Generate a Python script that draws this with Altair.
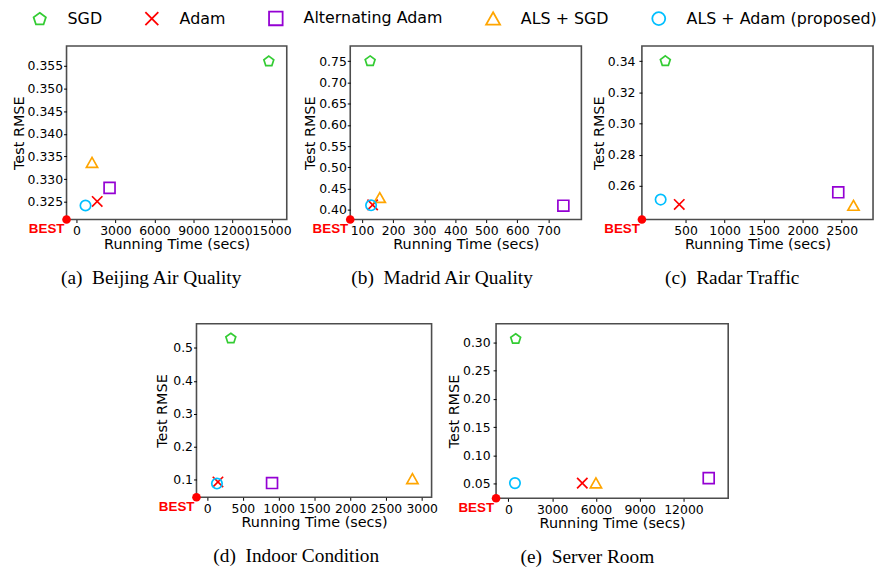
import altair as alt
import pandas as pd

# ---- data ----
methods = ["SGD", "Adam", "Alternating Adam", "ALS + SGD", "ALS + Adam (proposed)"]
colors = ["#33cc33", "#ff0000", "#9400d3", "#ffa500", "#00bfff"]

# (a) Beijing Air Quality
a_time = [14800, 1600, 2550, 1200, 700]
a_rmse = [0.3560, 0.3251, 0.3281, 0.3336, 0.3242]
# (b) Madrid Air Quality
b_time = [126, 134, 748, 157, 129]
b_rmse = [0.750, 0.412, 0.410, 0.428, 0.411]
# (c) Radar Traffic
c_time = [242, 420, 2455, 2650, 182]
c_rmse = [0.340, 0.2481, 0.2559, 0.2472, 0.2512]
# (d) Indoor Condition
d_time = [332, 152, 908, 2870, 138]
d_rmse = [0.529, 0.0914, 0.088, 0.100, 0.0866]
# (e) Server Room
e_time = [498, 5066, 13732, 6000, 450]
e_rmse = [0.3065, 0.0505, 0.0594, 0.0500, 0.0505]

pent = "M0,-1L0.951,-0.309L0.588,0.809L-0.588,0.809L-0.951,-0.309Z"
xmark = "M-1,-1L1,1M-1,1L1,-1"
sq = "M-1.05,-1.05L1.05,-1.05L1.05,1.05L-1.05,1.05Z"
tri = "M0,-1.05L1.08,0.85L-1.08,0.85Z"
shapes = [pent, xmark, sq, tri, "circle"]

legend = alt.Legend(
    orient="none", legendX=-35, legendY=-36, direction="horizontal", title=None,
    labelFont="DejaVu Sans", labelFontSize=16, labelColor="black", labelLimit=400,
    symbolSize=170, symbolStrokeWidth=1.8, labelOffset=20, columnPadding=39,
    symbolFillColor="transparent",
)


def panel(times, rmses, xdom, ydom, xvals, yvals, yfmt, caption, w, h, ylabpad=2, ytpad=1):
    df = pd.DataFrame({"Method": methods, "time": times, "rmse": rmses})
    xenc = alt.X("time:Q", scale=alt.Scale(domain=xdom, nice=False, zero=False),
                 axis=alt.Axis(values=xvals, format="d", title="Running Time (secs)",
                               labelOverlap=False))
    yenc = alt.Y("rmse:Q", scale=alt.Scale(domain=ydom, nice=False, zero=False),
                 axis=alt.Axis(values=yvals, format=yfmt, title="Test RMSE",
                               labelPadding=ylabpad, titlePadding=ytpad, labelOverlap=False))
    pts = alt.Chart(df).mark_point(filled=False, size=110, strokeWidth=1.7, opacity=1, clip=False).encode(
        x=xenc, y=yenc,
        color=alt.Color("Method:N", scale=alt.Scale(domain=methods, range=colors), legend=legend),
        shape=alt.Shape("Method:N", scale=alt.Scale(domain=methods, range=shapes), legend=legend),
    )
    bdf = pd.DataFrame({"time": [xdom[0]], "rmse": [ydom[0]], "label": ["BEST"]})
    dot = alt.Chart(bdf).mark_circle(size=75, color="#ff0000", opacity=1, clip=False).encode(x=xenc, y=yenc)
    txt = alt.Chart(bdf).mark_text(
        font="Liberation Sans", fontWeight="bold", fontSize=13.5, color="#ff0000",
        align="right", baseline="middle", dx=-2, dy=10, clip=False,
    ).encode(x=xenc, y=yenc, text="label:N")
    return alt.layer(pts, dot, txt).properties(
        width=w, height=h,
        title=alt.TitleParams(caption, orient="bottom", anchor="middle", frame="bounds",
                              font="Liberation Serif", fontSize=19.5, fontWeight="normal",
                              color="black", offset=18),
    )


pa = panel(a_time, a_rmse, [-760, 16180], [0.3211, 0.3594],
           [0, 3000, 6000, 9000, 12000, 15000],
           [0.325, 0.330, 0.335, 0.340, 0.345, 0.350, 0.355], ".3f",
           "(a)\u00a0\u00a0Beijing Air Quality", 222, 175, 1)
pb = panel(b_time, b_rmse, [62, 806], [0.3774, 0.7857],
           [100, 200, 300, 400, 500, 600, 700],
           [0.40, 0.45, 0.50, 0.55, 0.60, 0.65, 0.70, 0.75], ".2f",
           "(b)\u00a0\u00a0Madrid Air Quality", 233, 175, 1)
pc = panel(c_time, c_rmse, [-58, 2900], [0.2384, 0.3497],
           [500, 1000, 1500, 2000, 2500],
           [0.26, 0.28, 0.30, 0.32, 0.34], ".2f",
           "(c)\u00a0\u00a0Radar Traffic", 233, 175, 4)
pd_ = panel(d_time, d_rmse, [-148, 3138], [0.0445, 0.574],
            [0, 500, 1000, 1500, 2000, 2500, 3000],
            [0.1, 0.2, 0.3, 0.4, 0.5], ".1f",
            "(d)\u00a0\u00a0Indoor Condition", 237, 175, 1, 3)
pe = panel(e_time, e_rmse, [-845, 15068], [0.0235, 0.3335],
           [0, 3000, 6000, 9000, 12000],
           [0.05, 0.10, 0.15, 0.20, 0.25, 0.30], ".2f",
           "(e)\u00a0\u00a0Server Room", 234, 176, 3)

spacer = alt.Chart(pd.DataFrame({"v": [0]})).mark_point(opacity=0).encode(
    x=alt.value(0), y=alt.value(0)
).properties(width=131, height=10, view=alt.ViewBackground(stroke="transparent"))

row1 = alt.hconcat(pa, alt.hconcat(pb, pc, spacing=61, bounds="flush"), spacing=64, bounds="flush")
row2 = alt.hconcat(spacer, alt.hconcat(pd_, pe, spacing=65, bounds="flush"), spacing=0, bounds="flush")

# nested flush concat rows count as zero height, so the spacing spans row 1 plot height + gap
chart = alt.vconcat(row1, row2, spacing=280, bounds="flush").properties(
    padding={"left": 2, "top": 0, "right": 0, "bottom": 0}
).configure_view(
    stroke="#4d4d4d", strokeWidth=1.6
).configure_axis(
    grid=False, domain=False, ticks=True, tickSize=3, tickColor="black", tickWidth=1,
    labelFont="DejaVu Sans", labelFontSize=12.5, labelColor="black", labelPadding=2,
    titleFont="DejaVu Sans", titleFontSize=14.5, titleFontWeight="normal", titleColor="black",
    titlePadding=1,
)

chart.save("out.html", embed_options={"renderer": "svg", "actions": False})
